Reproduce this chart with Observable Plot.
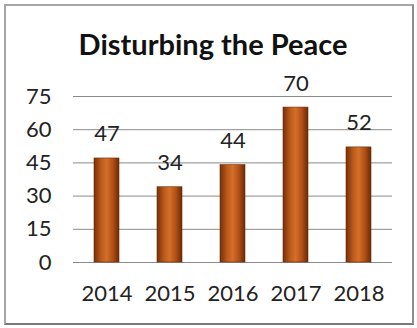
<!DOCTYPE html>
<html>
<head>
<meta charset="utf-8">
<script src="https://cdn.jsdelivr.net/npm/d3@7"></script>
<script src="https://cdn.jsdelivr.net/npm/@observablehq/plot@0.6"></script>
<style>
  html, body { margin: 0; padding: 0; background: #ffffff; }
  #wrap { position: relative; width: 417px; height: 328px; overflow: hidden; font-family: Lato, "Liberation Sans", sans-serif; }
  #frame { position: absolute; left: 4px; top: 4px; width: 406px; height: 317px; border: 2px solid #a6a6a6; border-right-color: #8c8c8c; border-bottom-color: #7a7a7a; box-sizing: content-box; }
  #title { position: absolute; left: 0; width: 426px; top: 26px; text-align: center; font-size: 29px; font-weight: bold; color: #111; }
  #chart { position: absolute; left: 0; top: 0; }
</style>
</head>
<body>
<div id="wrap">
  <div id="frame"></div>
  <div id="title">Disturbing the Peace</div>
  <div id="chart"></div>
</div>
<script>
const years = ["2014", "2015", "2016", "2017", "2018"];
const counts = [47, 34, 44, 70, 52];
const yTicks = [0, 15, 30, 45, 60, 75];

const data = years.map((y, i) => ({year: y, value: counts[i]}));

const plot = Plot.plot({
  width: 417,
  height: 328,
  marginLeft: 73,
  marginRight: 25,
  marginTop: 96,
  marginBottom: 66,
  style: {fontFamily: "Lato, 'Liberation Sans', sans-serif", background: "transparent", color: "#222"},
  x: {domain: years, paddingInner: 0.6, paddingOuter: 0.3, label: null, tickSize: 0, tickPadding: 23},
  y: {domain: [0, 75], ticks: yTicks, label: null, tickSize: 0, tickPadding: 22},
  marks: [
    Plot.gridY(yTicks, {stroke: "#8a8a8a", strokeOpacity: 1, strokeWidth: 1}),
    Plot.barY(data, {x: "year", y: "value", fill: "url(#barGrad)", stroke: "#6e2c04", strokeWidth: 0.6}),
    Plot.text(data, {x: "year", y: "value", text: d => String(d.value), lineAnchor: "bottom", dy: -17, fontSize: 22, fill: "#222"})
  ]
});

// gradient for the cylinder-like bars
const svg = d3.select(plot);
const defs = svg.insert("defs", ":first-child");
const g = defs.append("linearGradient").attr("id", "barGrad").attr("x1", "0").attr("x2", "1").attr("y1", "0").attr("y2", "0");
g.append("stop").attr("offset", "0%").attr("stop-color", "#74300a");
g.append("stop").attr("offset", "28%").attr("stop-color", "#bb5a1a");
g.append("stop").attr("offset", "50%").attr("stop-color", "#d2702a");
g.append("stop").attr("offset", "75%").attr("stop-color", "#b25016");
g.append("stop").attr("offset", "100%").attr("stop-color", "#6a2a05");

svg.selectAll("g[aria-label='x-axis tick label'], g[aria-label='y-axis tick label']").attr("font-size", 22).attr("fill", "#222");

document.getElementById("chart").appendChild(plot);
</script>
</body>
</html>
